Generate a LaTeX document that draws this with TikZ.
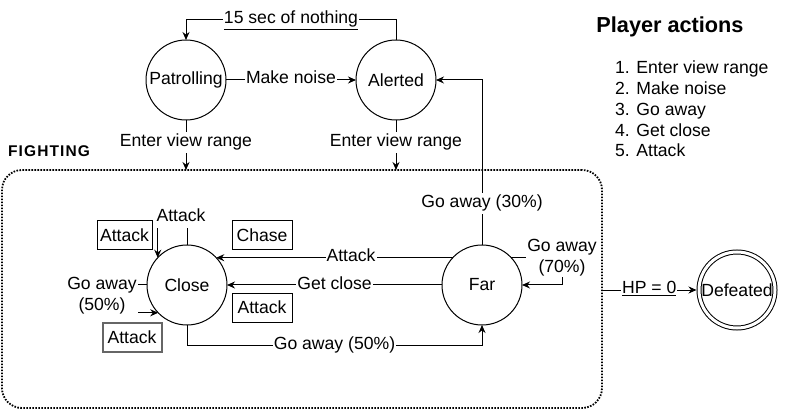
\documentclass[tikz,border=0pt]{standalone}
\usepackage{fontspec}
\setmainfont{Liberation Sans}
\usetikzlibrary{arrows.meta}
\newcommand\labfont{\fontsize{17.6}{21}\selectfont}
\tikzset{
  state/.style={circle, draw, line width=1pt, minimum size=80pt, inner sep=0pt, outer sep=0pt, font=\labfont},
  arr/.style={-{Stealth[length=8pt,width=7pt]}, line width=1pt},
  plain/.style={line width=1pt},
  lbl/.style={fill=white, inner xsep=1pt, inner ysep=1.5pt, text height=13pt, text depth=5pt, font=\labfont},
  lbltwo/.style={fill=white, inner sep=1pt, align=center, font=\labfont},
  actbox/.style={draw, line width=1pt, inner sep=0pt, minimum height=29pt, font=\labfont},
  listitem/.style={anchor=base west, inner sep=0pt, font=\labfont},
}
\begin{document}
\begin{tikzpicture}[x=1pt, y=-1pt]
\useasboundingbox (0,0) rectangle (802,411);

% fighting region
\node[draw, line width=1.8pt, dash pattern=on 1.6pt off 1.4pt, rounded corners=20pt,
      minimum width=600pt, minimum height=238pt, inner sep=0pt, outer sep=0pt] (fight) at (302,289) {};
\node[anchor=base west, inner sep=0pt, font=\fontsize{15.5}{18}\selectfont\bfseries\addfontfeature{LetterSpace=7}] (fighting) at (8,157) {FIGHTING};

% states
\node[state] (patrol) at (186,80) {Patrolling};
\node[state] (alerted) at (396,80) {Alerted};
\node[state] (close) at (187,285) {Close};
\node[state] (far) at (482,285) {Far};
\node[circle, draw, line width=1pt, double, double distance=3pt, minimum size=76pt, inner sep=0pt, outer sep=2.5pt, font=\labfont] (defeated) at (737,290) {Defeated};

% boxes
\node[actbox, minimum width=55pt] (b1) at (124.5,235.5) {Attack};
\node[actbox, minimum width=60pt] (b2) at (262,235.5) {Chase};
\node[actbox, minimum width=60pt] (b3) at (262,307.5) {Attack};
\node[actbox, minimum width=59pt, draw=black!60, line width=2pt] (b4) at (132,337) {Attack};

% top transitions
\draw[arr] (alerted.north) -- ++(0,-20) -| node[lbl, pos=0.25] {\underline{15 sec of nothing}} (patrol.north);
\draw[arr] (patrol.east) -- node[lbl] {Make noise} (alerted.west);
\draw[arr] (patrol.south) -- node[lbl, pos=0.46] {Enter view range} (patrol.south |- fight.north);
\draw[arr] (alerted.south) -- node[lbl, pos=0.46] {Enter view range} (alerted.south |- fight.north);

% fighting transitions
\draw[arr] (far.north) -- node[lbl, pos=0.25] {Go away (30\%)} (far.north |- alerted.east) -- (alerted.east);
\draw[arr] (far.137) -- node[lbl, pos=0.43] {Attack} (close.43);
\draw[arr] (far.west) -- node[lbl] {Get close} (close.east);
\draw[arr] (close.south) |- node[lbl, pos=0.75] {Go away (50\%)} ([yshift=-20pt]far.south) -- (far.south);
\draw[arr] (far.43) -- ++(51,0) |- (far.east);
\node[lbltwo] (l70) at (562,258) {Go away\\(70\%)};
\draw[arr] (close.north) -- ++(0,-29) -| (close.137);
\node[lbl] (ltop) at (181,218) {Attack};
\draw[arr] (close.west) -- ++(-37,0) |- (close.224);
\node[lbltwo] (l50) at (102,296) {Go away\\(50\%)};

% defeat
\draw[arr] (fight.east |- defeated.west) -- node[lbl] {\underline{HP = 0}} (defeated.west);

% legend
\node[anchor=base, inner sep=0pt, font=\fontsize{21.7}{26}\selectfont\bfseries] (ptitle) at (670,33) {Player actions};
\node[listitem] (i1) at (615,74) {1. Enter view range};
\node[listitem] (i2) at (615,94.7) {2. Make noise};
\node[listitem] (i3) at (615,115.4) {3. Go away};
\node[listitem] (i4) at (615,136.1) {4. Get close};
\node[listitem] (i5) at (615,156.8) {5. Attack};
\end{tikzpicture}
\end{document}
